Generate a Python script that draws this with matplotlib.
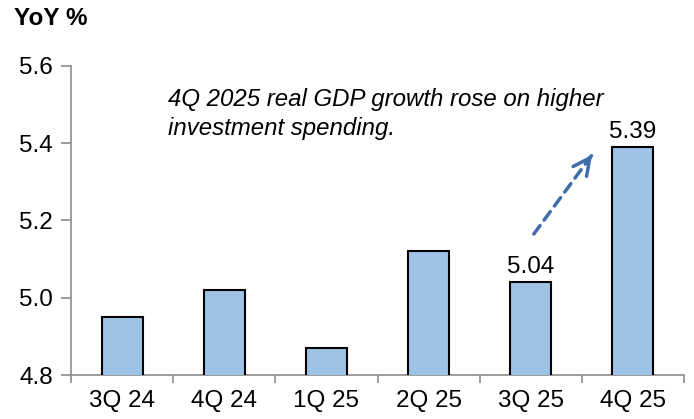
import matplotlib
matplotlib.use("Agg")
import matplotlib.pyplot as plt
import numpy as np

# Crecimiento del PIB real, interanual (%)
trimestres = ["3Q 24", "4Q 24", "1Q 25", "2Q 25", "3Q 25", "4Q 25"]
valores = [4.95, 5.02, 4.87, 5.12, 5.04, 5.39]
etiquetas = {4: "5.04", 5: "5.39"}
nota = "4Q 2025 real GDP growth rose on higher\ninvestment spending."

plt.rcParams["font.family"] = ["Liberation Sans", "DejaVu Sans"]

fig = plt.figure(figsize=(6.94, 4.19), dpi=100)
ax = fig.add_axes([0.1023, 0.105, 0.8833, 0.7375])

x = np.arange(len(trimestres))
ax.bar(x, valores, width=0.4, color="#9DC3E6", edgecolor="black",
       linewidth=1.5, zorder=3)

for i, txt in etiquetas.items():
    ax.text(x[i], valores[i] + 0.01, txt, ha="center", va="bottom",
            fontsize=17.5)

ax.set_ylim(4.8, 5.6)
ax.set_xlim(-0.5, len(trimestres) - 0.5)
ax.set_yticks([4.8, 5.0, 5.2, 5.4, 5.6])
ax.set_yticklabels(["4.8", "5.0", "5.2", "5.4", "5.6"])
ax.set_xticks(x)
ax.set_xticklabels(trimestres)
ax.set_xticks(np.arange(-0.5, len(trimestres)), minor=True)

for lado in ("top", "right"):
    ax.spines[lado].set_visible(False)
for lado in ("left", "bottom"):
    ax.spines[lado].set_color("#8C8C8C")
    ax.spines[lado].set_linewidth(1.2)

ax.tick_params(axis="y", length=7, width=1.2, color="#8C8C8C",
               labelsize=17.5, pad=6)
ax.tick_params(axis="x", which="major", length=0, labelsize=17.5, pad=11)
ax.tick_params(axis="x", which="minor", length=6, width=1.2,
               color="#8C8C8C")

# flecha discontinua con punta sólida
inicio = (4.03, 5.165)
fin = (4.6, 5.37)
casi = (inicio[0] + 0.95 * (fin[0] - inicio[0]),
        inicio[1] + 0.95 * (fin[1] - inicio[1]))
ax.annotate("", xy=fin, xytext=inicio,
            arrowprops=dict(arrowstyle="-", color="#3F6DAA", lw=2.5,
                            linestyle=(0, (3, 2)), shrinkA=0, shrinkB=0))
ax.annotate("", xy=fin, xytext=casi,
            arrowprops=dict(arrowstyle="->", color="#3F6DAA", lw=2.5,
                            mutation_scale=30, shrinkA=0, shrinkB=0))

ax.text(0.45, 5.476, nota, fontsize=17.3, style="italic", va="center",
        ha="left", linespacing=1.3)

fig.text(0.02, 0.957, "YoY %", fontsize=17.5, fontweight="bold",
         va="center", ha="left")

fig.savefig("out.png", dpi=100)
